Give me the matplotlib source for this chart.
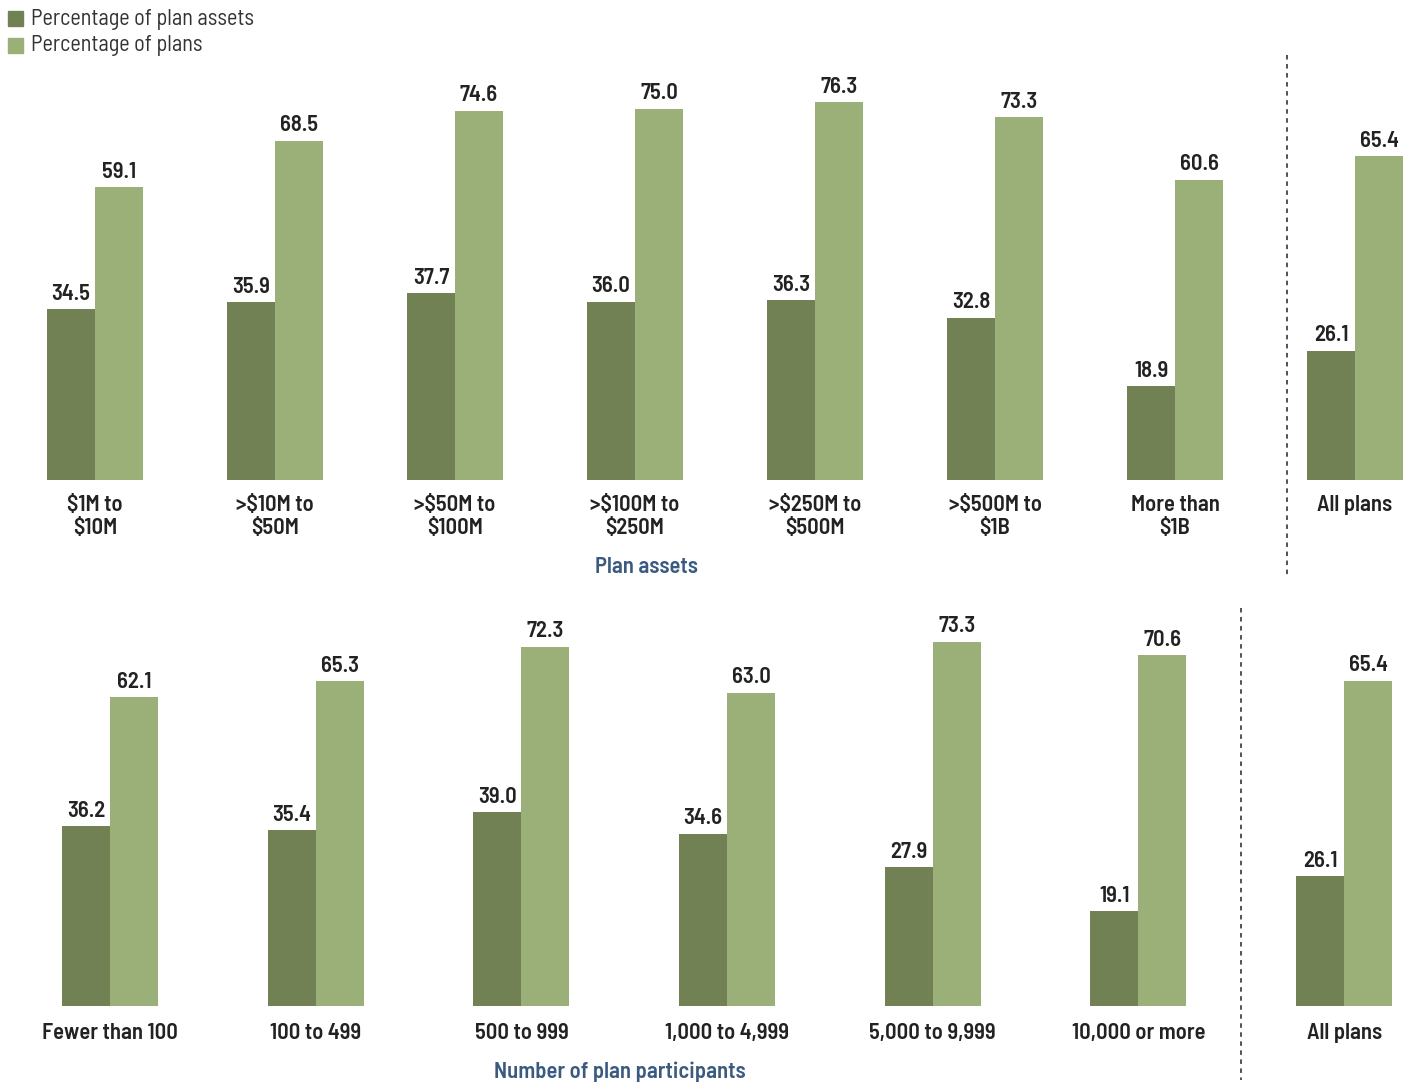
import matplotlib
matplotlib.use("Agg")
import matplotlib.pyplot as plt
from matplotlib.lines import Line2D
from matplotlib.patches import Rectangle
import numpy as np

# ---- data ----
top_categories = ["$1M to\n$10M", ">$10M to\n$50M", ">$50M to\n$100M", ">$100M to\n$250M",
                  ">$250M to\n$500M", ">$500M to\n$1B", "More than\n$1B", "All plans"]
top_assets = [34.5, 35.9, 37.7, 36.0, 36.3, 32.8, 18.9, 26.1]
top_plans = [59.1, 68.5, 74.6, 75.0, 76.3, 73.3, 60.6, 65.4]

bot_categories = ["Fewer than 100", "100 to 499", "500 to 999", "1,000 to 4,999",
                  "5,000 to 9,999", "10,000 or more", "All plans"]
bot_assets = [36.2, 35.4, 39.0, 34.6, 27.9, 19.1, 26.1]
bot_plans = [62.1, 65.3, 72.3, 63.0, 73.3, 70.6, 65.4]

legend_labels = ["Percentage of plan assets", "Percentage of plans"]
top_xlabel = "Plan assets"
bot_xlabel = "Number of plan participants"

# ---- style ----
DARK = "#718154"
LIGHT = "#9bb079"
TXT = "#222222"
BLUE = "#3b5a80"
FONT = ["Barlow Semi Condensed", "DejaVu Sans"]
plt.rcParams["font.family"] = FONT
BW = 600  # bold weight
FS = 16.3

W, H = 1411, 1083
fig = plt.figure(figsize=(W / 100, H / 100), dpi=100)


def px_axes(left, top, right, bottom):
    return fig.add_axes([left / W, 1 - bottom / H, (right - left) / W, (bottom - top) / H])


def draw_panel(ax, cats, a, p, step, bw_px, label_pad):
    n = len(cats)
    x = np.arange(n)
    bw = bw_px / step
    ax.bar(x - bw / 2, a, width=bw, color=DARK, linewidth=0)
    ax.bar(x + bw / 2, p, width=bw, color=LIGHT, linewidth=0)
    for i in range(n):
        ax.annotate(f"{a[i]:.1f}", (x[i] - bw / 2, a[i]), xytext=(0, 4), textcoords="offset points",
                    ha="center", va="bottom", fontsize=FS, fontweight=BW, color=TXT)
        ax.annotate(f"{p[i]:.1f}", (x[i] + bw / 2, p[i]), xytext=(0, 4), textcoords="offset points",
                    ha="center", va="bottom", fontsize=FS, fontweight=BW, color=TXT)
    ax.set_xticks(x)
    ax.set_xticklabels(cats, fontsize=FS, fontweight=BW, color=TXT, linespacing=1.22)
    ax.tick_params(axis="x", length=0, pad=label_pad)
    ax.set_yticks([])
    for s in ax.spines.values():
        s.set_visible(False)
    ax.patch.set_alpha(0)


# top panel: baseline at 480px, group centers 95 + 180*i
t_top, t_base = 40, 480
t_scale = 4.95
ax1 = px_axes(0, t_top, W, t_base)
draw_panel(ax1, top_categories, top_assets, top_plans, 180, 48, 10.5)
ax1.set_xlim(-95 / 180, (W - 95) / 180)
ax1.set_ylim(0, (t_base - t_top) / t_scale)

# bottom panel: baseline at 1006px, centers 110 + 205.7*i
b_top, b_base = 600, 1006
b_scale = 4.97
ax2 = px_axes(0, b_top, W, b_base)
draw_panel(ax2, bot_categories, bot_assets, bot_plans, 205.7, 48, 12.5)
ax2.set_xlim(-110 / 205.7, (W - 110) / 205.7)
ax2.set_ylim(0, (b_base - b_top) / b_scale)

# axis titles placed in figure coords
fig.text(646 / W, 1 - 567 / H, top_xlabel, ha="center", va="center", fontsize=FS,
         fontweight=BW, color=BLUE)
fig.text(620 / W, 1 - 1072 / H, bot_xlabel, ha="center", va="center", fontsize=FS,
         fontweight=BW, color=BLUE)

# dashed separators
fig.add_artist(Line2D([1287 / W, 1287 / W], [1 - 55 / H, 1 - 575 / H], color="#444444",
                      linewidth=1.3, linestyle=(0, (2.5, 2.5))))
fig.add_artist(Line2D([1241 / W, 1241 / W], [1 - 608 / H, 1 - 1080 / H], color="#444444",
                      linewidth=1.3, linestyle=(0, (2.5, 2.5))))

# legend
for k, (lab, col) in enumerate(zip(legend_labels, [DARK, LIGHT])):
    yc = 19 + 27 * k
    fig.add_artist(Rectangle((8 / W, 1 - (yc + 7) / H), 15 / W, 15 / H, color=col,
                             transform=fig.transFigure))
    fig.text(31 / W, 1 - yc / H, lab, ha="left", va="center", fontsize=16, color="#333333")

fig.savefig("out.png", dpi=100)
